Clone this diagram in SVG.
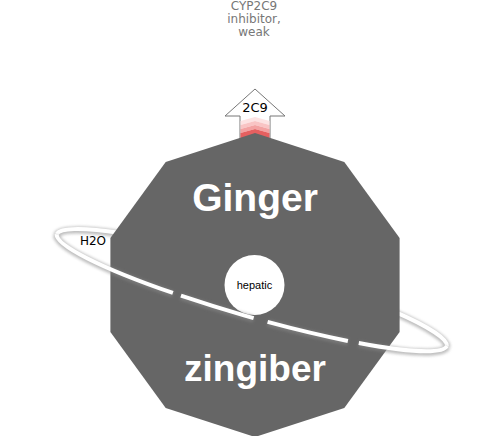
<svg xmlns="http://www.w3.org/2000/svg" width="502" height="436" viewBox="0 0 502 436">
<defs>
<style>
.ring{fill:none;stroke:#fff;stroke-width:4}
.ringsh{fill:none;stroke:#888;stroke-width:7;opacity:0.55}
.lab{font-family:"DejaVu Sans",sans-serif;text-anchor:middle}
.big{font-family:"Liberation Sans",Arial,sans-serif;font-weight:bold;fill:#fff;text-anchor:middle}
</style>
<filter id="blur" x="-10%" y="-50%" width="120%" height="200%"><feGaussianBlur stdDeviation="1.5"/></filter>
</defs>
<rect width="502" height="436" fill="#fff"/>
<g id="labels-top">
<text class="lab" x="254" y="9.5" font-size="12" fill="#777">CYP2C9</text>
<text class="lab" x="254" y="23" font-size="12" fill="#777">inhibitor,</text>
<text class="lab" x="254" y="36" font-size="12" fill="#777">weak</text>
</g>
<g id="connectors">
<g id="ring-back">
<path class="ringsh" filter="url(#blur)" transform="translate(0,1)" d="M446.9,346 A203,27 16 0 0 56.7,234.2"/>
<path class="ring" d="M446.9,346 A203,27 16 0 0 56.7,234.2"/>
</g>
</g>
<g id="arrow-2C9">
<polygon points="255,89 285,116 270,116 270,140 240,140 240,116 225,116" fill="#fff" stroke="#777" stroke-width="1"/>
<polygon points="240.5,121 255,117 269.5,121 269.5,125 255,121 240.5,125" fill="#fde3e3"/>
<polygon points="240.5,125 255,121 269.5,125 269.5,129 255,125 240.5,129" fill="#f9c4c4"/>
<polygon points="240.5,129 255,125 269.5,129 269.5,133 255,129 240.5,133" fill="#f3a2a2"/>
<polygon points="240.5,133 255,129 269.5,133 269.5,140 240.5,140" fill="#e66060"/>
<text class="lab" x="255" y="112" font-size="13" fill="#000">2C9</text>
</g>
<g id="node-ginger">
<polygon points="255,133 344.3,162 399.6,238 399.6,332 344.3,408 255,437 165.7,408 110.4,332 110.4,238 165.7,162" fill="#666"/>
<text class="big" x="255" y="211" font-size="39">Ginger</text>
<text class="big" x="255" y="381" font-size="37">zingiber</text>
</g>
<g id="node-hepatic">
<circle cx="254.5" cy="285" r="30" fill="#fff"/>
<text x="254.5" y="289" font-family="Liberation Sans,Arial,sans-serif" font-size="11" text-anchor="middle" fill="#000">hepatic</text>
</g>
<g id="ring-front">
<path class="ringsh" filter="url(#blur)" transform="translate(0,1)" d="M56.7,234.2 A203,27 16 0 0 446.9,346" stroke-dasharray="132.5 8.5 76.2 14.5 82.2 11.1 120"/>
<path class="ring" d="M56.7,234.2 A203,27 16 0 0 446.9,346" stroke-dasharray="132.5 8.5 76.2 14.5 82.2 11.1 120"/>
</g>
<g id="label-h2o">
<text class="lab" x="93" y="245" font-size="12" fill="#000">H2O</text>
</g>
</svg>
